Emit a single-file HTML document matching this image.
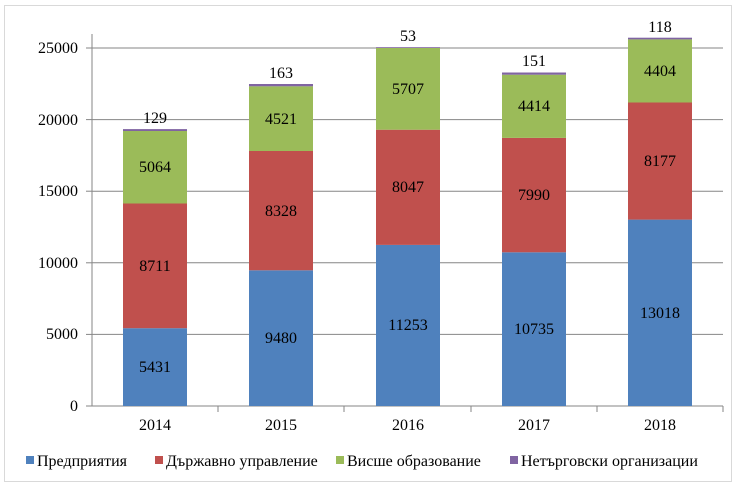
<!DOCTYPE html>
<html><head><meta charset="utf-8"><style>body{margin:0;background:#fff}</style></head><body>
<svg width="740" height="487" xmlns="http://www.w3.org/2000/svg" font-family="Liberation Serif, serif">
<rect x="4.5" y="5.5" width="727" height="476" fill="#fff" stroke="#d9d9d9"/>
<g stroke="#868686" stroke-width="1">
<line x1="92" y1="334.4" x2="723" y2="334.4"/>
<line x1="92" y1="262.8" x2="723" y2="262.8"/>
<line x1="92" y1="191.2" x2="723" y2="191.2"/>
<line x1="92" y1="119.6" x2="723" y2="119.6"/>
<line x1="92" y1="48" x2="723" y2="48"/>
</g>
<g stroke="#868686" stroke-width="1">
<line x1="92" y1="34" x2="92" y2="406"/>
<line x1="86" y1="406" x2="723" y2="406"/>
<line x1="86" y1="334.4" x2="92" y2="334.4"/><line x1="86" y1="262.8" x2="92" y2="262.8"/><line x1="86" y1="191.2" x2="92" y2="191.2"/><line x1="86" y1="119.6" x2="92" y2="119.6"/><line x1="86" y1="48" x2="92" y2="48"/>
<line x1="218" y1="406" x2="218" y2="412"/><line x1="344" y1="406" x2="344" y2="412"/><line x1="471" y1="406" x2="471" y2="412"/><line x1="597" y1="406" x2="597" y2="412"/><line x1="723" y1="406" x2="723" y2="412"/>
</g>
<g font-size="16" text-anchor="end" fill="#000">
<text x="78" y="411">0</text><text x="78" y="339">5000</text><text x="78" y="268">10000</text><text x="78" y="196">15000</text><text x="78" y="125">20000</text><text x="78" y="53">25000</text>
</g>
<g font-size="16" text-anchor="middle">
<text x="155" y="430">2014</text><text x="281" y="430">2015</text><text x="408" y="430">2016</text><text x="534" y="430">2017</text><text x="660" y="430">2018</text>
</g>
<g font-size="16">
<rect x="26" y="456" width="8" height="8" fill="#4f81bd"/><text x="37" y="466">Предприятия</text>
<rect x="155" y="456" width="8" height="8" fill="#c0504d"/><text x="166" y="466">Държавно управление</text>
<rect x="336" y="456" width="8" height="8" fill="#9bbb59"/><text x="347" y="466">Висше образование</text>
<rect x="510" y="456" width="8" height="8" fill="#8064a2"/><text x="521" y="466">Нетърговски организации</text>
</g>
<g font-size="16" text-anchor="middle">
<rect x="123" y="328.2" width="64" height="77.8" fill="#4f81bd"/>
<rect x="123" y="203.5" width="64" height="124.7" fill="#c0504d"/>
<rect x="123" y="131" width="64" height="72.5" fill="#9bbb59"/>
<rect x="123" y="129.1" width="64" height="1.9" fill="#8064a2"/>
<text x="155" y="372">5431</text><text x="155" y="271">8711</text><text x="155" y="172">5064</text><text x="155" y="123">129</text>
<rect x="249" y="270.3" width="64" height="135.7" fill="#4f81bd"/>
<rect x="249" y="151" width="64" height="119.3" fill="#c0504d"/>
<rect x="249" y="86.3" width="64" height="64.7" fill="#9bbb59"/>
<rect x="249" y="84" width="64" height="2.3" fill="#8064a2"/>
<text x="281" y="343">9480</text><text x="281" y="216">8328</text><text x="281" y="124">4521</text><text x="281" y="78">163</text>
<rect x="376" y="244.9" width="64" height="161.1" fill="#4f81bd"/>
<rect x="376" y="129.7" width="64" height="115.2" fill="#c0504d"/>
<rect x="376" y="48" width="64" height="81.7" fill="#9bbb59"/>
<rect x="376" y="47.2" width="64" height="0.8" fill="#8064a2"/>
<text x="408" y="330">11253</text><text x="408" y="192">8047</text><text x="408" y="94">5707</text><text x="408" y="41">53</text>
<rect x="502" y="252.3" width="64" height="153.7" fill="#4f81bd"/>
<rect x="502" y="137.9" width="64" height="114.4" fill="#c0504d"/>
<rect x="502" y="74.7" width="64" height="63.2" fill="#9bbb59"/>
<rect x="502" y="72.5" width="64" height="2.2" fill="#8064a2"/>
<text x="534" y="334">10735</text><text x="534" y="200">7990</text><text x="534" y="111">4414</text><text x="534" y="66">151</text>
<rect x="628" y="219.6" width="64" height="186.4" fill="#4f81bd"/>
<rect x="628" y="102.5" width="64" height="117.1" fill="#c0504d"/>
<rect x="628" y="39.4" width="64" height="63.1" fill="#9bbb59"/>
<rect x="628" y="37.7" width="64" height="1.7" fill="#8064a2"/>
<text x="660" y="318">13018</text><text x="660" y="166">8177</text><text x="660" y="76">4404</text><text x="660" y="32">118</text>
</g>
</svg>
</body></html>
